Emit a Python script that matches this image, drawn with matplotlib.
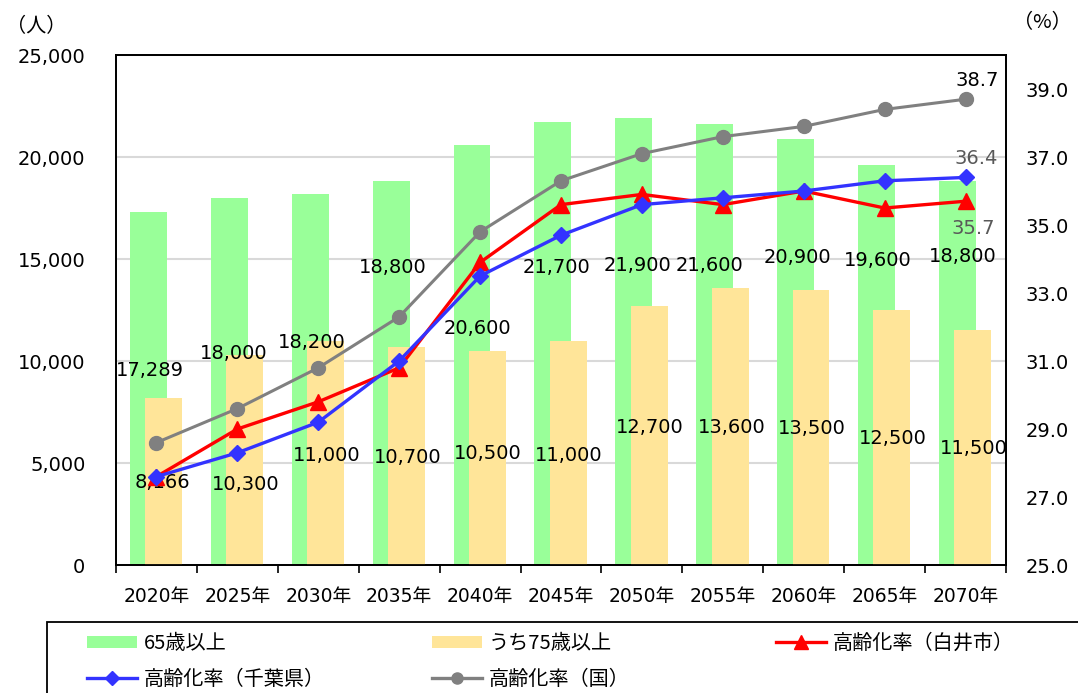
import numpy as np
import matplotlib.pyplot as plt
from matplotlib.lines import Line2D
from matplotlib.patches import Patch, Rectangle

plt.rcParams['font.family'] = ['DejaVu Sans', 'Noto Sans CJK JP']

# 年次
years = ['2020年', '2025年', '2030年', '2035年', '2040年', '2045年',
         '2050年', '2055年', '2060年', '2065年', '2070年']

# 高齢者人口（人）
pop65 = [17289, 18000, 18200, 18800, 20600, 21700, 21900, 21600, 20900, 19600, 18800]
pop75 = [8166, 10300, 11000, 10700, 10500, 11000, 12700, 13600, 13500, 12500, 11500]

# 高齢化率（%）
rate_shiroi = [27.6, 29.0, 29.8, 30.8, 33.9, 35.6, 35.9, 35.6, 36.0, 35.5, 35.7]
rate_chiba = [27.6, 28.3, 29.2, 31.0, 33.5, 34.7, 35.6, 35.8, 36.0, 36.3, 36.4]
rate_japan = [28.6, 29.6, 30.8, 32.3, 34.8, 36.3, 37.1, 37.6, 37.9, 38.4, 38.7]

# data label placement (x offset from category, y in left-axis units)
lab65_dx = [-0.08, -0.05, -0.08, -0.08, -0.03, -0.05, -0.06, -0.17, -0.08, -0.08, -0.04]
lab65_y = [9520, 10390, 10930, 14560, 11570, 14560, 14700, 14700, 15050, 14950, 15100]
lab75_dx = [0.08, 0.10, 0.11, 0.10, 0.10, 0.10, 0.10, 0.11, 0.10, 0.10, 0.10]
lab75_y = [4020, 3970, 5390, 5290, 5490, 5390, 6720, 6720, 6670, 6180, 5690]

GREEN = '#99FF99'
YELLOW = '#FFE599'
RED = '#FF0000'
BLUE = '#3333FF'
GRAY = '#808080'
FS = 14
CJK = ['Noto Sans CJK JP', 'DejaVu Sans']

x = np.arange(len(years))

fig = plt.figure(figsize=(10.78, 6.93), dpi=100)
ax = fig.add_axes([0.1076, 0.1847, 0.8256, 0.7359])
ax2 = ax.twinx()

ax.bar(x - 0.10, pop65, width=0.457, color=GREEN, zorder=2)
ax.bar(x + 0.09, pop75, width=0.457, color=YELLOW, zorder=3)

for i, v in enumerate(pop65):
    ax.text(i + lab65_dx[i], lab65_y[i], f'{v:,}', ha='center', va='center',
            fontsize=FS, color='black', zorder=5)
for i, v in enumerate(pop75):
    ax.text(i + lab75_dx[i], lab75_y[i], f'{v:,}', ha='center', va='center',
            fontsize=FS, color='black', zorder=5)

ax.set_xlim(-0.5, len(years) - 0.5)
ax.set_ylim(0, 25000)
ax.set_yticks(np.arange(0, 25001, 5000))
ax.set_yticklabels([f'{v:,}' for v in range(0, 25001, 5000)])
ax.yaxis.grid(True, color='#d9d9d9', linewidth=1.5, zorder=0)
ax.set_axisbelow(True)
ax.set_xticks(x)
ax.set_xticklabels(years)
ax.set_xticks(np.arange(-0.5, len(years)), minor=True)
ax.tick_params(axis='x', which='major', length=0, pad=16, labelsize=13.5)
ax.tick_params(axis='x', which='minor', length=6, width=1.2, direction='out')
ax.tick_params(axis='y', length=0, pad=22, labelsize=FS)

# 高齢化率の折れ線
ax2.plot(x, rate_japan, color=GRAY, lw=2.2, marker='o', ms=10, zorder=4)
ax2.plot(x, rate_shiroi, color=RED, lw=2.4, marker='^', ms=11, zorder=5)
ax2.plot(x, rate_chiba, color=BLUE, lw=2.4, marker='D', ms=8, zorder=6)
ax2.set_ylim(25, 40)
ax2.set_yticks(np.arange(25, 40, 2))
ax2.set_yticklabels([f'{v:.1f}' for v in np.arange(25, 40, 2)])
ax2.tick_params(axis='y', length=0, pad=14, labelsize=FS)

last = len(years) - 1
ax2.text(last + 0.14, 39.25, f'{rate_japan[-1]:.1f}', ha='center', va='center',
         fontsize=FS, color='black')
ax2.text(last + 0.13, 36.97, f'{rate_chiba[-1]:.1f}', ha='center', va='center',
         fontsize=FS, color='#595959')
ax2.text(last + 0.10, 34.9, f'{rate_shiroi[-1]:.1f}', ha='center', va='center',
         fontsize=FS, color='#595959')

for a in (ax, ax2):
    for s in a.spines.values():
        s.set_color('black')
        s.set_linewidth(1.3)

fig.text(0.034, 0.961, '（人）', fontsize=14.5, ha='center', va='center', family=CJK)
fig.text(0.967, 0.967, '（%）', fontsize=14.5, ha='center', va='center', family=CJK)

# 凡例：枠は図の右下へはみ出す
fig.patches.append(Rectangle((0.0436, -0.1), 1.0, 0.2025, transform=fig.transFigure,
                             fill=False, edgecolor='black', linewidth=1.3))

h_65 = Patch(facecolor=GREEN, edgecolor='none')
h_75 = Patch(facecolor=YELLOW, edgecolor='none')
h_shiroi = Line2D([], [], color=RED, lw=2.4, marker='^', ms=10)
h_chiba = Line2D([], [], color=BLUE, lw=2.4, marker='D', ms=7)
h_japan = Line2D([], [], color=GRAY, lw=2.4, marker='o', ms=8)

columns = [
    (0.0807, [h_65, h_chiba], ['65歳以上', '高齢化率（千葉県）']),
    (0.4007, [h_75, h_japan], ['うち75歳以上', '高齢化率（国）']),
    (0.7199, [h_shiroi], ['高齢化率（白井市）']),
]
for x0, hs, ls in columns:
    fig.legend(hs, ls, loc='upper left', bbox_to_anchor=(x0, 0.0865),
               prop={'family': CJK, 'size': 14.5}, frameon=False,
               handlelength=2.5, handleheight=0.6, handletextpad=0.3,
               borderpad=0, borderaxespad=0, labelspacing=0.75)

fig.savefig('out.png', dpi=100)
